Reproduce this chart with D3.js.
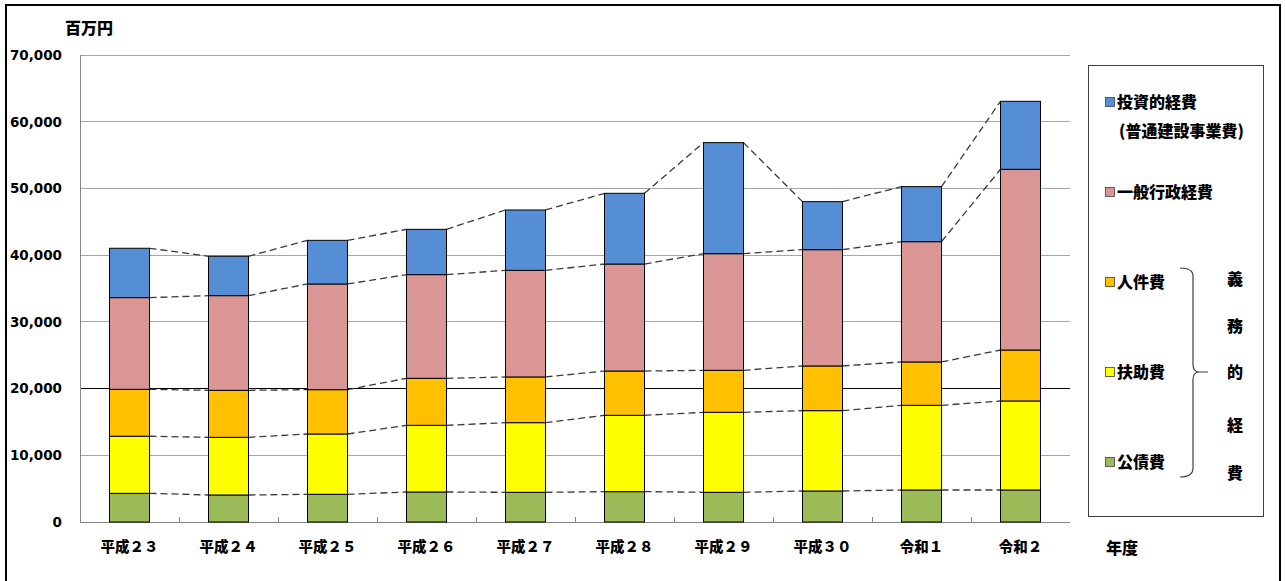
<!DOCTYPE html>
<html><head><meta charset="utf-8">
<script src="https://cdn.jsdelivr.net/npm/d3@7"></script>
<style>
html,body{margin:0;padding:0;background:#fff;}
svg{display:block;}
</style></head>
<body>
<svg id="c" width="1285" height="581"></svg>
<script>
const years = ["平成２３","平成２４","平成２５","平成２６","平成２７","平成２８","平成２９","平成３０","令和１","令和２"];
const seriesNames = ["公債費","扶助費","人件費","一般行政経費","投資的経費"];
const kosaihi   = [4300, 4050, 4150, 4500, 4450, 4550, 4450, 4650, 4800, 4800];
const fujohi    = [8550, 8640, 9040, 9990, 10440, 11440, 11990, 12040, 12690, 13340];
const jinkenhi  = [7040, 7050, 6650, 7050, 6850, 6640, 6300, 6700, 6500, 7640];
const ippan     = [13740, 14190, 15840, 15540, 15980, 16040, 17480, 17430, 18030, 27090];
const toshi     = [7400, 5900, 6540, 6790, 9050, 10600, 16640, 7200, 8250, 10190];
const yTicks = [0,10000,20000,30000,40000,50000,60000,70000];

const colors = ["#9BBB59","#FFFF00","#FFC000","#D99694","#558ED5"];
const JP = "Noto Sans CJK JP";
const svg = d3.select("#c");

// outer frame
svg.append("rect").attr("x",6).attr("y",5).attr("width",1274).attr("height",600)
  .attr("fill","none").attr("stroke","#000").attr("stroke-width",2);

const L=80, R=1070, T=55, B=522;
const x = d3.scaleBand().domain(years).range([L,R]).paddingInner(0.596).paddingOuter(0.298);
const band = d3.scaleBand().domain(years).range([L,R]);
const y = d3.scaleLinear().domain([0,70000]).range([B,T]);

// gridlines
svg.append("g").selectAll("line").data(yTicks.filter(d=>d>0)).join("line")
  .attr("x1",L).attr("x2",R).attr("y1",d=>y(d)).attr("y2",d=>y(d))
  .attr("stroke",d=>d===20000?"#000":"#a6a6a6").attr("stroke-width",1)
  .attr("shape-rendering","crispEdges");

// y tick labels
svg.append("g").selectAll("text").data(yTicks).join("text")
  .attr("x",62).attr("y",d=>y(d)).attr("dy","0.36em").attr("text-anchor","end")
  .attr("font-family","DejaVu Sans, Verdana, sans-serif").attr("font-weight","bold")
  .attr("font-size","13.5px").attr("fill","#000").text(d=>d3.format(",")(d));

svg.append("text").attr("x",65).attr("y",34).attr("font-family",JP)
  .attr("font-weight","900").attr("font-size","16px").text("百万円");

// axes lines
svg.append("line").attr("x1",L).attr("x2",L).attr("y1",T).attr("y2",B)
  .attr("stroke","#868686").attr("shape-rendering","crispEdges");
svg.append("line").attr("x1",L).attr("x2",R).attr("y1",B).attr("y2",B)
  .attr("stroke","#868686").attr("shape-rendering","crispEdges");
svg.append("g").selectAll("line").data(years.slice(1)).join("line")
  .attr("x1",d=>band(d)).attr("x2",d=>band(d)).attr("y1",B-5).attr("y2",B)
  .attr("stroke","#868686").attr("shape-rendering","crispEdges");

// stacked data
const table = years.map((yr,i)=>({year:yr,"公債費":kosaihi[i],"扶助費":fujohi[i],"人件費":jinkenhi[i],"一般行政経費":ippan[i],"投資的経費":toshi[i]}));
const stacked = d3.stack().keys(seriesNames)(table);

// dashed connector lines (tops of each segment)
stacked.forEach(s=>{
  for(let i=0;i<years.length-1;i++){
    svg.append("line")
      .attr("x1",x(years[i])+x.bandwidth()).attr("y1",y(s[i][1]))
      .attr("x2",x(years[i+1])).attr("y2",y(s[i+1][1]))
      .attr("stroke","#3a3a3a").attr("stroke-width",1.3).attr("stroke-dasharray","7,4");
  }
});

// bars
stacked.forEach((s,k)=>{
  svg.append("g").selectAll("rect").data(s).join("rect")
    .attr("x",(d,i)=>x(years[i])).attr("width",x.bandwidth())
    .attr("y",d=>y(d[1])).attr("height",d=>y(d[0])-y(d[1]))
    .attr("fill",colors[k]).attr("stroke","#000").attr("stroke-width",1);
});

// x labels
svg.append("g").selectAll("text").data(years).join("text")
  .attr("x",d=>x(d)+x.bandwidth()/2).attr("y",552).attr("text-anchor","middle")
  .attr("font-family",JP).attr("font-weight","900").attr("font-size","14.5px")
  .text(d=>d);
svg.append("text").attr("x",1106).attr("y",554).attr("font-family",JP)
  .attr("font-weight","900").attr("font-size","16px").text("年度");

// legend
svg.append("rect").attr("x",1088.5).attr("y",65.5).attr("width",175).attr("height",451)
  .attr("fill","#fff").attr("stroke","#404040").attr("stroke-width",1);
const legendItems = [
  {name:"投資的経費", c:4, y:102},
  {name:"一般行政経費", c:3, y:192},
  {name:"人件費", c:2, y:282},
  {name:"扶助費", c:1, y:372},
  {name:"公債費", c:0, y:462}
];
const lg = svg.append("g");
legendItems.forEach(it=>{
  lg.append("rect").attr("x",1105.5).attr("y",it.y-4.5).attr("width",9).attr("height",9)
    .attr("fill",colors[it.c]).attr("stroke","#404040").attr("stroke-width",0.8);
  lg.append("text").attr("x",1117).attr("y",it.y).attr("dy","0.36em")
    .attr("font-family",JP).attr("font-weight","900").attr("font-size","16px")
    .text(it.name);
});
lg.append("text").attr("x",1119).attr("y",131).attr("dy","0.36em")
  .attr("font-family",JP).attr("font-weight","900").attr("font-size","16px")
  .text("(普通建設事業費)");

// bracket
lg.append("path")
  .attr("d","M1180,268 Q1193,268 1193,276 L1193,364 Q1193,372 1199,372 L1208,372 M1199,372 Q1193,372 1193,380 L1193,468 Q1193,477 1180,477")
  .attr("fill","none").attr("stroke","#404040").attr("stroke-width",1.2);
const vchars = ["義","務","的","経","費"];
const vy = [279,326,372,425,473];
vchars.forEach((ch,i)=>{
  lg.append("text").attr("x",1235).attr("y",vy[i]).attr("dy","0.36em").attr("text-anchor","middle")
    .attr("font-family",JP).attr("font-weight","900").attr("font-size","16px").text(ch);
});
</script>
</body></html>
